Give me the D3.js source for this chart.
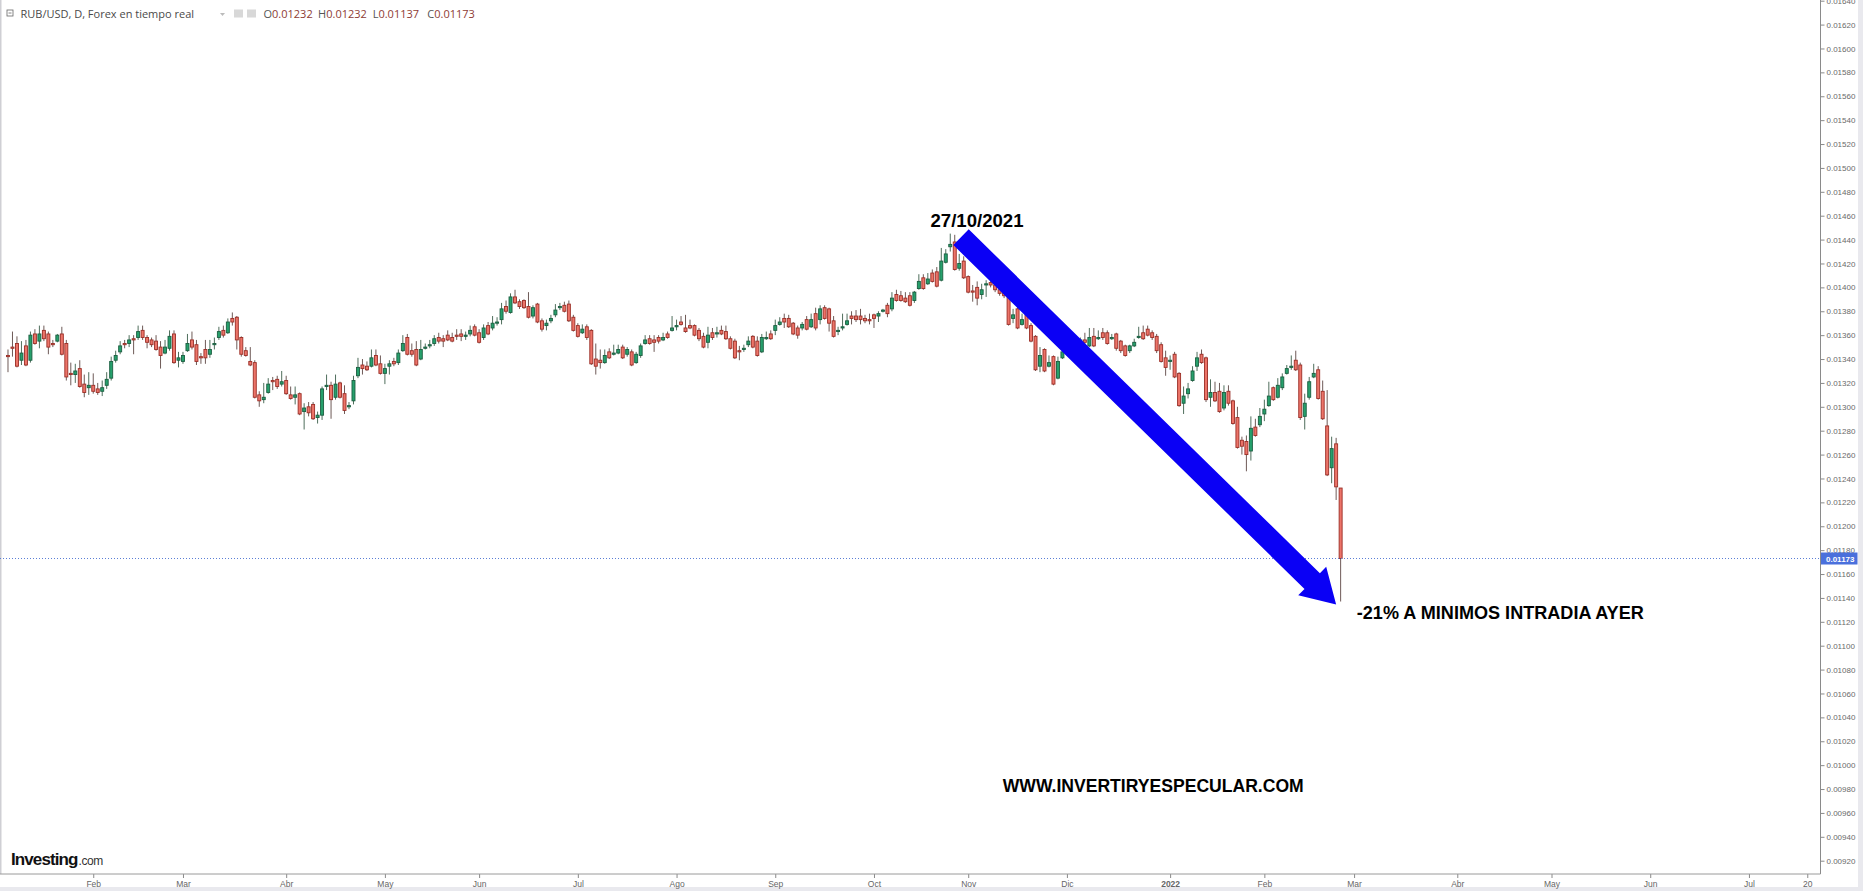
<!DOCTYPE html>
<html><head><meta charset="utf-8">
<script src="https://cdn.jsdelivr.net/npm/d3@7"></script>
<style>
html,body{margin:0;padding:0;background:#fff;overflow:hidden;}
svg{display:block;}
</style></head><body>
<svg id="c" width="1863" height="891"></svg>
<script>
// ---------------- DATA ----------------
const symbol = "RUB/USD, D, Forex en tiempo real";
const startDate = "2021-01-05";   // first candle (weekday series)
const opens = [
0.01343,0.01350,0.01353,0.01339,0.01351,0.01339,0.01361,0.01355,0.01364,0.01361,
0.01353,0.01355,0.01361,0.01353,0.01328,0.01327,0.01332,0.01319,0.01316,0.01318,
0.01315,0.01313,0.01318,0.01324,0.01339,0.01346,0.01353,0.01353,0.01357,0.01358,
0.01364,0.01358,0.01356,0.01355,0.01350,0.01345,0.01349,0.01361,0.01339,0.01338,
0.01347,0.01356,0.01352,0.01342,0.01348,0.01344,0.01352,0.01358,0.01364,0.01362,
0.01374,0.01375,0.01358,0.01347,0.01338,0.01337,0.01310,0.01306,0.01312,0.01322,
0.01323,0.01319,0.01322,0.01310,0.01308,0.01311,0.01296,0.01300,0.01302,0.01291,
0.01293,0.01317,0.01318,0.01308,0.01320,
0.01311,0.01300,0.01305,0.01326,0.01335,0.01334,0.01334,0.01343,0.01336,0.01328,
0.01334,0.01338,0.01337,0.01347,0.01358,0.01347,0.01348,0.01340,0.01349,0.01351,
0.01353,0.01358,0.01357,0.01360,0.01358,0.01360,0.01361,0.01359,0.01361,0.01367,
0.01362,0.01358,0.01368,0.01366,0.01370,0.01373,0.01384,0.01379,0.01392,0.01388,
0.01389,0.01384,0.01376,0.01386,0.01372,0.01368,0.01372,0.01377,0.01383,0.01385,
0.01386,0.01375,0.01368,0.01362,0.01367,0.01364,0.01340,0.01339,0.01337,0.01346,
0.01344,0.01345,0.01350,0.01344,0.01346,0.01337,0.01343,0.01353,0.01357,0.01356,
0.01358,0.01356,0.01361,0.01364,0.01367,
0.01371,0.01366,0.01368,0.01368,0.01364,0.01359,0.01354,0.01362,0.01361,0.01364,
0.01363,0.01357,0.01355,0.01347,0.01348,0.01352,0.01359,0.01355,0.01346,0.01357,
0.01361,0.01364,0.01369,0.01374,0.01374,0.01370,0.01366,0.01366,0.01373,0.01367,
0.01378,0.01373,0.01383,0.01382,0.01372,0.01363,0.01366,0.01369,0.01376,0.01376,
0.01376,0.01374,0.01373,0.01377,0.01376,0.01380,0.01385,0.01382,0.01394,0.01393,
0.01391,0.01393,0.01389,0.01399,0.01408,0.01403,0.01412,0.01413,0.01406,0.01421,
0.01434,0.01438,0.01416,0.01422,0.01409,0.01397,0.01400,0.01394,0.01402,0.01404,
0.01402,0.01398,0.01395,0.01392,0.01374,0.01382,0.01369,0.01377,0.01368,0.01359,
0.01334,0.01348,0.01334,0.01342,0.01324,0.01341,0.01346,0.01349,0.01353,0.01350,
0.01356,0.01351,0.01359,0.01357,0.01362,0.01362,0.01357,0.01361,0.01355,0.01351,
0.01347,0.01351,0.01358,0.01362,0.01365,0.01362,0.01359,0.01352,0.01341,0.01338,
0.01344,0.01328,0.01303,0.01311,0.01322,0.01334,0.01344,0.01341,0.01308,0.01312,
0.01313,0.01299,0.01313,0.01305,0.01291,0.01272,0.01271,0.01263,0.01283,0.01285,
0.01294,0.01301,0.01316,0.01308,0.01316,0.01328,0.01333,0.01339,0.01335,0.01292,
0.01308,0.01325,0.01331,0.01313,0.01284,0.01249,0.01269,0.01232];
const highs = [
0.01348,0.01363,0.01359,0.01355,0.01356,0.01363,0.01365,0.01368,0.01368,0.01363,
0.01356,0.01361,0.01367,0.01356,0.01337,0.01336,0.01339,0.01327,0.01329,0.01328,
0.01320,0.01322,0.01329,0.01342,0.01347,0.01355,0.01356,0.01360,0.01360,0.01368,
0.01368,0.01360,0.01358,0.01360,0.01355,0.01356,0.01364,0.01364,0.01346,0.01346,
0.01361,0.01363,0.01356,0.01345,0.01356,0.01356,0.01358,0.01367,0.01368,0.01374,
0.01379,0.01376,0.01359,0.01350,0.01350,0.01339,0.01313,0.01320,0.01324,0.01325,
0.01326,0.01330,0.01326,0.01317,0.01317,0.01312,0.01303,0.01304,0.01304,0.01296,
0.01317,0.01327,0.01321,0.01327,0.01321,
0.01318,0.01304,0.01326,0.01341,0.01340,0.01338,0.01348,0.01348,0.01343,0.01336,
0.01339,0.01341,0.01348,0.01360,0.01361,0.01353,0.01355,0.01356,0.01353,0.01356,
0.01360,0.01362,0.01360,0.01364,0.01362,0.01365,0.01365,0.01363,0.01368,0.01369,
0.01365,0.01369,0.01371,0.01376,0.01375,0.01387,0.01389,0.01395,0.01398,0.01390,
0.01390,0.01396,0.01385,0.01387,0.01374,0.01373,0.01377,0.01386,0.01387,0.01388,
0.01389,0.01377,0.01370,0.01369,0.01369,0.01365,0.01353,0.01348,0.01348,0.01349,
0.01352,0.01352,0.01352,0.01350,0.01348,0.01346,0.01353,0.01360,0.01360,0.01360,
0.01360,0.01362,0.01363,0.01376,0.01373,
0.01376,0.01377,0.01373,0.01369,0.01366,0.01362,0.01367,0.01366,0.01367,0.01368,
0.01368,0.01359,0.01357,0.01351,0.01352,0.01359,0.01360,0.01359,0.01361,0.01363,
0.01364,0.01373,0.01375,0.01378,0.01377,0.01371,0.01368,0.01371,0.01376,0.01378,
0.01383,0.01385,0.01385,0.01383,0.01376,0.01367,0.01378,0.01378,0.01380,0.01381,
0.01382,0.01377,0.01378,0.01378,0.01380,0.01382,0.01387,0.01396,0.01398,0.01397,
0.01396,0.01396,0.01397,0.01411,0.01411,0.01412,0.01415,0.01417,0.01433,0.01432,
0.01445,0.01444,0.01428,0.01426,0.01410,0.01402,0.01405,0.01403,0.01406,0.01407,
0.01404,0.01401,0.01399,0.01394,0.01382,0.01385,0.01378,0.01378,0.01370,0.01360,
0.01350,0.01349,0.01343,0.01343,0.01342,0.01350,0.01352,0.01356,0.01357,0.01358,
0.01362,0.01366,0.01366,0.01364,0.01366,0.01364,0.01361,0.01362,0.01356,0.01352,
0.01352,0.01357,0.01367,0.01368,0.01368,0.01364,0.01361,0.01354,0.01347,0.01343,
0.01346,0.01329,0.01317,0.01320,0.01334,0.01346,0.01348,0.01342,0.01323,0.01321,
0.01320,0.01318,0.01318,0.01306,0.01300,0.01275,0.01276,0.01292,0.01290,0.01299,
0.01306,0.01321,0.01317,0.01324,0.01328,0.01335,0.01343,0.01347,0.01337,0.01311,
0.01325,0.01336,0.01334,0.01322,0.01314,0.01275,0.01274,0.01232];
const lows = [
0.01329,0.01342,0.01333,0.01335,0.01334,0.01337,0.01352,0.01349,0.01355,0.01344,
0.01350,0.01354,0.01343,0.01322,0.01318,0.01320,0.01316,0.01308,0.01310,0.01311,
0.01310,0.01309,0.01315,0.01322,0.01337,0.01344,0.01349,0.01350,0.01344,0.01356,
0.01356,0.01349,0.01350,0.01347,0.01332,0.01344,0.01347,0.01336,0.01333,0.01336,
0.01346,0.01348,0.01335,0.01336,0.01336,0.01341,0.01348,0.01356,0.01358,0.01361,
0.01368,0.01348,0.01342,0.01342,0.01334,0.01307,0.01300,0.01303,0.01311,0.01314,
0.01315,0.01317,0.01310,0.01306,0.01302,0.01293,0.01281,0.01292,0.01289,0.01286,
0.01289,0.01314,0.01290,0.01306,0.01307,
0.01294,0.01298,0.01302,0.01324,0.01327,0.01330,0.01333,0.01334,0.01327,0.01319,
0.01327,0.01334,0.01335,0.01346,0.01343,0.01342,0.01334,0.01339,0.01348,0.01349,
0.01351,0.01353,0.01350,0.01355,0.01354,0.01356,0.01355,0.01356,0.01359,0.01359,
0.01353,0.01356,0.01360,0.01364,0.01368,0.01369,0.01378,0.01378,0.01386,0.01382,
0.01382,0.01374,0.01374,0.01370,0.01363,0.01364,0.01370,0.01375,0.01381,0.01379,
0.01371,0.01363,0.01358,0.01361,0.01356,0.01335,0.01327,0.01332,0.01336,0.01340,
0.01343,0.01344,0.01340,0.01342,0.01334,0.01336,0.01341,0.01352,0.01352,0.01346,
0.01353,0.01355,0.01357,0.01363,0.01364,
0.01368,0.01362,0.01365,0.01359,0.01355,0.01349,0.01349,0.01356,0.01358,0.01360,
0.01356,0.01348,0.01340,0.01339,0.01346,0.01350,0.01349,0.01342,0.01345,0.01356,
0.01356,0.01360,0.01368,0.01366,0.01366,0.01360,0.01357,0.01364,0.01364,0.01366,
0.01364,0.01369,0.01373,0.01363,0.01358,0.01360,0.01364,0.01368,0.01369,0.01371,
0.01369,0.01370,0.01369,0.01366,0.01371,0.01379,0.01375,0.01380,0.01388,0.01388,
0.01387,0.01384,0.01387,0.01398,0.01398,0.01402,0.01404,0.01400,0.01405,0.01420,
0.01430,0.01414,0.01414,0.01407,0.01395,0.01388,0.01385,0.01390,0.01392,0.01400,
0.01396,0.01393,0.01391,0.01368,0.01370,0.01365,0.01368,0.01365,0.01354,0.01330,
0.01329,0.01329,0.01333,0.01318,0.01323,0.01340,0.01343,0.01345,0.01347,0.01348,
0.01352,0.01350,0.01350,0.01356,0.01356,0.01352,0.01356,0.01347,0.01345,0.01342,
0.01345,0.01350,0.01357,0.01356,0.01359,0.01356,0.01345,0.01337,0.01326,0.01331,
0.01324,0.01300,0.01294,0.01307,0.01321,0.01330,0.01336,0.01304,0.01300,0.01304,
0.01295,0.01297,0.01301,0.01285,0.01265,0.01260,0.01246,0.01255,0.01275,0.01283,
0.01288,0.01300,0.01305,0.01307,0.01314,0.01327,0.01331,0.01330,0.01289,0.01281,
0.01306,0.01324,0.01306,0.01289,0.01242,0.01236,0.01222,0.01137];
const closes = [
0.01342,0.01349,0.01334,0.01345,0.01335,0.01360,0.01353,0.01361,0.01357,0.01350,
0.01352,0.01360,0.01344,0.01325,0.01327,0.01330,0.01317,0.01312,0.01318,0.01313,
0.01312,0.01316,0.01323,0.01338,0.01343,0.01351,0.01352,0.01356,0.01356,0.01363,
0.01358,0.01354,0.01352,0.01348,0.01343,0.01350,0.01359,0.01337,0.01341,0.01343,
0.01353,0.01350,0.01338,0.01341,0.01341,0.01348,0.01353,0.01363,0.01360,0.01371,
0.01371,0.01356,0.01344,0.01343,0.01335,0.01308,0.01305,0.01308,0.01319,0.01321,
0.01317,0.01321,0.01311,0.01307,0.01310,0.01294,0.01299,0.01295,0.01290,0.01293,
0.01315,0.01318,0.01306,0.01319,0.01308,
0.01297,0.01301,0.01322,0.01333,0.01332,0.01331,0.01341,0.01335,0.01328,0.01332,
0.01336,0.01336,0.01345,0.01353,0.01344,0.01344,0.01335,0.01348,0.01350,0.01352,
0.01357,0.01355,0.01355,0.01356,0.01355,0.01359,0.01359,0.01360,0.01364,0.01360,
0.01354,0.01366,0.01361,0.01370,0.01371,0.01382,0.01380,0.01392,0.01387,0.01384,
0.01383,0.01375,0.01383,0.01371,0.01365,0.01370,0.01374,0.01381,0.01384,0.01380,
0.01372,0.01364,0.01359,0.01365,0.01358,0.01336,0.01334,0.01337,0.01343,0.01341,
0.01345,0.01348,0.01341,0.01348,0.01335,0.01344,0.01351,0.01356,0.01353,0.01354,
0.01355,0.01358,0.01358,0.01366,0.01368,
0.01369,0.01363,0.01366,0.01360,0.01357,0.01350,0.01360,0.01358,0.01362,0.01361,
0.01357,0.01349,0.01341,0.01346,0.01349,0.01355,0.01350,0.01343,0.01358,0.01358,
0.01357,0.01368,0.01371,0.01371,0.01367,0.01361,0.01360,0.01369,0.01365,0.01373,
0.01366,0.01382,0.01374,0.01370,0.01359,0.01364,0.01367,0.01372,0.01374,0.01373,
0.01373,0.01372,0.01372,0.01374,0.01378,0.01381,0.01378,0.01391,0.01389,0.01389,
0.01388,0.01385,0.01396,0.01405,0.01399,0.01407,0.01405,0.01401,0.01422,0.01428,
0.01436,0.01415,0.01420,0.01408,0.01396,0.01396,0.01391,0.01398,0.01403,0.01402,
0.01398,0.01395,0.01393,0.01369,0.01377,0.01366,0.01373,0.01366,0.01355,0.01331,
0.01343,0.01330,0.01337,0.01319,0.01338,0.01346,0.01349,0.01353,0.01350,0.01356,
0.01354,0.01358,0.01351,0.01358,0.01358,0.01353,0.01358,0.01349,0.01347,0.01343,
0.01351,0.01354,0.01359,0.01357,0.01360,0.01358,0.01347,0.01338,0.01333,0.01339,
0.01325,0.01301,0.01309,0.01315,0.01330,0.01341,0.01337,0.01306,0.01312,0.01305,
0.01296,0.01312,0.01303,0.01286,0.01266,0.01267,0.01260,0.01282,0.01276,0.01292,
0.01298,0.01309,0.01306,0.01318,0.01325,0.01332,0.01334,0.01331,0.01291,0.01303,
0.01321,0.01328,0.01307,0.01290,0.01243,0.01265,0.01233,0.01173];

const yTickValues = [0.0092,0.0094,0.0096,0.0098,0.0100,0.0102,0.0104,0.0106,0.0108,0.0110,
  0.0112,0.0114,0.0116,0.0118,0.0120,0.0122,0.0124,0.0126,0.0128,0.0130,0.0132,0.0134,
  0.0136,0.0138,0.0140,0.0142,0.0144,0.0146,0.0148,0.0150,0.0152,0.0154,0.0156,0.0158,
  0.0160,0.0162,0.0164];
const xTickDates = ["2021-02-01","2021-03-01","2021-04-01","2021-05-03","2021-06-01","2021-07-01",
  "2021-08-02","2021-09-01","2021-10-01","2021-11-01","2021-12-01","2022-01-03","2022-02-01",
  "2022-03-01","2022-04-01","2022-05-02","2022-06-01","2022-07-01","2022-07-20"];
const xTickLabels = ["Feb","Mar","Abr","May","Jun","Jul","Ago","Sep","Oct","Nov","Dic","2022",
  "Feb","Mar","Abr","May","Jun","Jul","20"];
const lastPrice = 0.01173;
const ohlcLabels = ["O","H","L","C"];
// annotations (date index position / price level)
const arrowFrom = {date:"2021-10-28", shift:0.4, value:0.01442};
const arrowTo   = {date:"2022-02-23", shift:0.0, value:0.011345};
const notes = [
  {text:"27/10/2021", date:"2021-10-19", shift:0.6, value:0.014505, width:93},
  {text:"-21% A MINIMOS INTRADIA AYER", date:"2022-03-01", shift:0.6, value:0.011221, width:287},
  {text:"WWW.INVERTIRYESPECULAR.COM", date:"2021-11-10", shift:0.7, value:0.009771, width:301}
];

// ---------------- LAYOUT ----------------
const W = 1863, H = 891;
const plotRight = 1820.5, axisY = 874;
const svg = d3.select("#c");

// weekday calendar
const cal = [];
for (let d = new Date(Date.UTC(2021,0,4)); d <= new Date(Date.UTC(2022,6,29)); d.setUTCDate(d.getUTCDate()+1)) {
  const w = d.getUTCDay(); if (w !== 0 && w !== 6) cal.push(new Date(d));
}
const fmt = d3.utcFormat("%Y-%m-%d");
const idxOf = new Map(cal.map((d,i)=>[fmt(d),i]));
const x = d3.scaleLinear().domain([0, 402]).range([3.5, 3.5 + 402*4.487]);
const y = d3.scaleLinear().domain([0.0092, 0.0164]).range([860.7, 0.7]);

const i0 = idxOf.get(startDate);
const candles = opens.map((o,k)=>({i:i0+k, o, h:highs[k], l:lows[k], c:closes[k]}));

// background strips
svg.append("rect").attr("x",0).attr("y",0).attr("width",W).attr("height",H).attr("fill","#fff");
svg.append("rect").attr("x",0).attr("y",887).attr("width",W).attr("height",4).attr("fill","#e9e9ee");
svg.append("rect").attr("x",1858).attr("y",0).attr("width",5).attr("height",H).attr("fill","#e9e9ee");
svg.append("rect").attr("x",0).attr("y",0).attr("width",1.5).attr("height",axisY).attr("fill","#cfcfd4");

// candles
const gC = svg.append("g");
const up = d => d.c >= d.o;
gC.selectAll("line.w").data(candles).join("line")
  .attr("x1", d=>x(d.i)).attr("x2", d=>x(d.i))
  .attr("y1", d=>y(d.h)).attr("y2", d=>y(d.l))
  .attr("stroke", d=> up(d) ? "#4f6e5c" : "#6e5a57").attr("stroke-width",1);
gC.selectAll("rect.b").data(candles).join("rect")
  .attr("x", d=>x(d.i)-1.5).attr("width",3.0)
  .attr("y", d=>y(Math.max(d.o,d.c)))
  .attr("height", d=>Math.max(1.2, y(Math.min(d.o,d.c)) - y(Math.max(d.o,d.c))))
  .attr("fill", d=> up(d) ? "#26a06c" : "#ec7469")
  .attr("stroke", d=> up(d) ? "#1b5e40" : "#9a2e26").attr("stroke-width",0.9);

// last price dotted line
svg.append("line").attr("x1",0).attr("x2",plotRight).attr("y1",y(lastPrice)).attr("y2",y(lastPrice))
  .attr("stroke","#5b7fd6").attr("stroke-width",1).attr("stroke-dasharray","1,2");

// right axis
const yAxis = d3.axisRight(y).tickValues(yTickValues).tickFormat(d3.format(".5f")).tickSize(4).tickSizeOuter(0);
const gy = svg.append("g").attr("transform",`translate(${plotRight},0)`).call(yAxis);
gy.select(".domain").remove();
gy.selectAll(".tick line").attr("stroke","#8a8a8a");
gy.selectAll(".tick text").attr("x",6).attr("fill","#6a6a6a")
  .style("font-family","'Liberation Sans', Arial, sans-serif").style("font-size","8px");
svg.append("line").attr("x1",plotRight).attr("x2",plotRight).attr("y1",0).attr("y2",axisY)
  .attr("stroke","#8a8a8a").attr("stroke-width",1);

// bottom axis
const xTickIdx = xTickDates.map(s=>idxOf.get(s));
const xAxis = d3.axisBottom(x).tickValues(xTickIdx).tickFormat((d,k)=>xTickLabels[k]).tickSize(4).tickSizeOuter(0);
const gx = svg.append("g").attr("transform",`translate(0,${axisY})`).call(xAxis);
gx.select(".domain").remove();
gx.selectAll(".tick line").attr("stroke","#8a8a8a");
gx.selectAll(".tick text").attr("fill","#666")
  .style("font-family","'Liberation Sans Narrow','Liberation Sans', Arial, sans-serif").style("font-size","8.5px")
  .style("font-weight",(d,k)=> xTickLabels[k]==="2022" ? "bold" : "normal");
svg.append("line").attr("x1",0).attr("x2",plotRight).attr("y1",axisY).attr("y2",axisY)
  .attr("stroke","#9a9a9a").attr("stroke-width",1);

// last price label
const pl = svg.append("g").attr("transform",`translate(${plotRight+0.5},${y(lastPrice)})`);
pl.append("rect").attr("x",0).attr("y",-6).attr("width",36.5).attr("height",12).attr("fill","#4a70dc");
pl.append("text").attr("x",5).attr("y",3).text(d3.format(".5f")(lastPrice))
  .attr("fill","#fff").style("font-family","'Liberation Sans', Arial, sans-serif").style("font-size","8px").style("font-weight","bold");

// header
const hd = svg.append("g");
hd.append("rect").attr("x",7).attr("y",10).attr("width",6).attr("height",6).attr("fill","none").attr("stroke","#666").attr("stroke-width",0.8);
hd.append("line").attr("x1",8.5).attr("x2",11.5).attr("y1",13).attr("y2",13).attr("stroke","#666").attr("stroke-width",0.8);
hd.append("text").attr("x",20.5).attr("y",18).text(symbol)
  .attr("fill","#4a4a4a").style("font-family","'Open Sans', sans-serif").style("font-size","11px");
hd.append("path").attr("d","M220,13 L225,13 L222.5,16 Z").attr("fill","#bbb");
hd.append("rect").attr("x",234).attr("y",9.5).attr("width",9).attr("height",8).attr("fill","#d8d8d8");
hd.append("rect").attr("x",247).attr("y",9.5).attr("width",9).attr("height",8).attr("fill","#d8d8d8");
const last = candles[candles.length-1];
const ohlcVals = [last.o,last.h,last.l,last.c];
const ot = hd.append("text").attr("y",18).style("font-family","'Open Sans', sans-serif").style("font-size","11px");
ohlcLabels.forEach((lab,k)=>{
  ot.append("tspan").attr("x",263.5 + k*54.6).attr("fill","#555").text(lab);
  ot.append("tspan").attr("fill","#8e3b34").text(d3.format(".5f")(ohlcVals[k]));
});

// logo
const lg = svg.append("text").attr("x",11).attr("y",865);
lg.append("tspan").text("Investing").attr("fill","#111")
  .style("font-family","'Liberation Sans', Arial, sans-serif").style("font-size","17px").style("font-weight","bold").style("letter-spacing","-0.9px");
lg.append("tspan").text(".com").attr("fill","#333").attr("dx",1)
  .style("font-family","'Liberation Sans', Arial, sans-serif").style("font-size","12px").style("letter-spacing","-0.4px");

// arrow annotation
const ax0 = x(idxOf.get(arrowFrom.date)+arrowFrom.shift), ay0 = y(arrowFrom.value);
const ax1 = x(idxOf.get(arrowTo.date)+arrowTo.shift), ay1 = y(arrowTo.value);
const len = Math.hypot(ax1-ax0, ay1-ay0);
const ux = (ax1-ax0)/len, uy = (ay1-ay0)/len, nx = -uy, ny = ux;
const sw = 11, hw = 20, hl = 33.5;
const bx = ax1 - ux*hl, by = ay1 - uy*hl;
const pts = [
  [ax0 + nx*sw, ay0 + ny*sw], [bx + nx*sw, by + ny*sw], [bx + nx*hw, by + ny*hw],
  [ax1, ay1], [bx - nx*hw, by - ny*hw], [bx - nx*sw, by - ny*sw], [ax0 - nx*sw, ay0 - ny*sw]
];
svg.append("path").attr("d", d3.line()(pts) + "Z").attr("fill","#0a00f5");

// text notes
svg.selectAll("text.note").data(notes).join("text").attr("class","note")
  .attr("x", d=>x(idxOf.get(d.date)+d.shift)).attr("y", d=>y(d.value))
  .attr("textLength", d=>d.width).attr("lengthAdjust","spacingAndGlyphs")
  .text(d=>d.text).attr("fill","#000")
  .style("font-family","'Liberation Sans', Arial, sans-serif").style("font-size","17.5px").style("font-weight","bold");
</script>
</body></html>
